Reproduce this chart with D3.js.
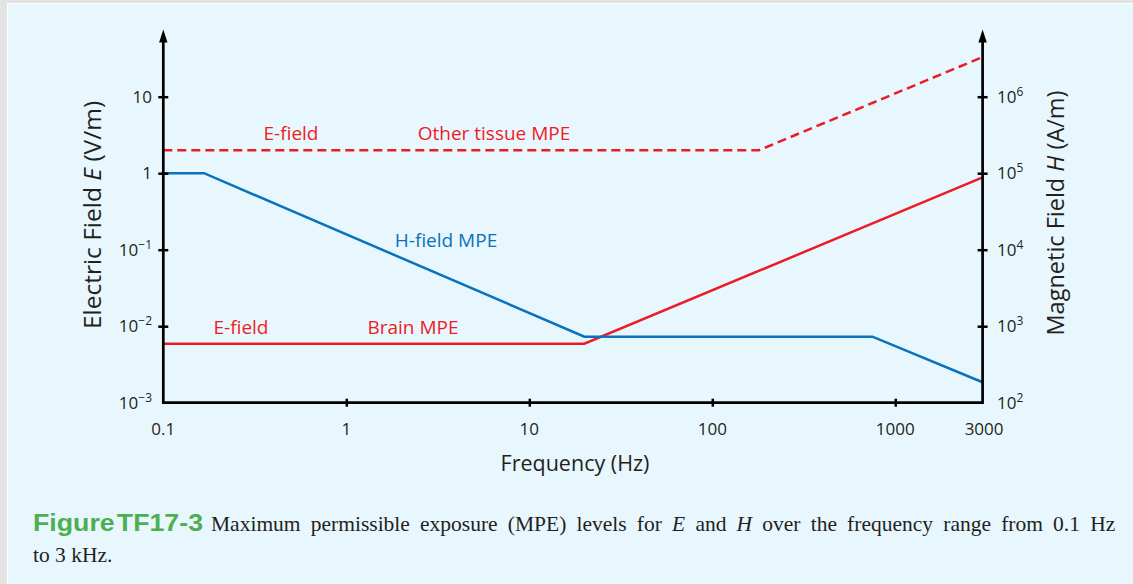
<!DOCTYPE html>
<html><head><meta charset="utf-8">
<script src="https://cdn.jsdelivr.net/npm/d3@7"></script>
<style>
html,body{margin:0;padding:0;background:#e3e3e3;}
svg{display:block;}
</style></head>
<body>
<svg id="chart" width="1133" height="584"></svg>
<script>
// ---- data ----
const xTicks = [0.1, 1, 10, 100, 1000, 3000];
const xTickLabels = ["0.1", "1", "10", "100", "1000", "3000"];
const eTicks = [0.001, 0.01, 0.1, 1, 10];
const eTickBase = ["10", "10", "10", "1", "10"];
const eTickSup = ["\u22123", "\u22122", "\u22121", "", ""];
const hTicks = [100, 1000, 10000, 100000, 1000000];
const hTickSup = ["2", "3", "4", "5", "6"];

const otherFreq = [0.1, 180, 3000];
const otherE = [2.0, 2.0, 33];
const brainFreq = [0.1, 20, 3000];
const brainE = [0.0059, 0.0059, 0.88];
const hFreq = [0.1, 0.167, 20, 750, 3000];
const hVals = [100000, 100000, 730, 730, 185];

const RED = "#ed1c24", BLUE = "#0a72ba", GREEN = "#4daf4f";

const svg = d3.select("#chart");
// background frame
svg.append("rect").attr("x", 0).attr("y", 0).attr("width", 1133).attr("height", 584).attr("fill", "#e3e3e3");
svg.append("rect").attr("x", 7).attr("y", 3).attr("width", 1126).attr("height", 581).attr("fill", "#ffffff");
svg.append("rect").attr("x", 8).attr("y", 4).attr("width", 1125).attr("height", 580).attr("fill", "#e8f7fe");

const x = d3.scaleLog().domain([0.1, 3000]).range([163.3, 982.6]);
const yE = d3.scaleLog().domain([0.001, 10]).range([402.7, 96.7]);
const yH = d3.scaleLog().domain([100, 1000000]).range([402.7, 96.7]);

const sans = "'Open Sans', 'Noto Sans', sans-serif";

// lines
const lineE = d3.line().x(d => x(d[0])).y(d => yE(d[1]));
const lineH = d3.line().x(d => x(d[0])).y(d => yH(d[1]));
svg.append("path").attr("d", lineE(d3.zip(otherFreq, otherE)))
  .attr("fill", "none").attr("stroke", RED).attr("stroke-width", 2.5).attr("stroke-dasharray", "9,5");
svg.append("path").attr("d", lineE(d3.zip(brainFreq, brainE)))
  .attr("fill", "none").attr("stroke", RED).attr("stroke-width", 2.5);
svg.append("path").attr("d", lineH(d3.zip(hFreq, hVals)))
  .attr("fill", "none").attr("stroke", BLUE).attr("stroke-width", 2.5);

// axes
const axisG = svg.append("g");
const xAxis = axisG.append("g").attr("transform", `translate(0,${yE(0.001)})`)
  .call(d3.axisBottom(x).tickValues([1, 10, 100, 1000]).tickSize(4).tickFormat(""));
xAxis.selectAll(".tick line").attr("y1", -4).attr("y2", 4).attr("stroke", "#000").attr("stroke-width", 2.5);
xAxis.select(".domain").attr("d", `M${x(0.1)},0H${x(3000)}`).attr("stroke", "#000").attr("stroke-width", 2.7);

const lAxis = axisG.append("g").attr("transform", `translate(${x(0.1)},0)`)
  .call(d3.axisLeft(yE).tickValues([0.01, 0.1, 1, 10]).tickSize(5).tickFormat(""));
lAxis.selectAll(".tick line").attr("x1", -5).attr("x2", 5).attr("stroke", "#000").attr("stroke-width", 2.5);
lAxis.select(".domain").attr("d", `M0,${yE(0.001) + 1.3}V38`).attr("stroke", "#000").attr("stroke-width", 2.7);

const rAxis = axisG.append("g").attr("transform", `translate(${x(3000)},0)`)
  .call(d3.axisRight(yH).tickValues([1000, 10000, 100000, 1000000]).tickSize(5).tickFormat(""));
rAxis.selectAll(".tick line").attr("x1", -5).attr("x2", 5).attr("stroke", "#000").attr("stroke-width", 2.5);
rAxis.select(".domain").attr("d", `M0,${yE(0.001) + 1.3}V38`).attr("stroke", "#000").attr("stroke-width", 2.7);

// arrow heads
[x(0.1), x(3000)].forEach(ax => {
  svg.append("path").attr("d", `M${ax},29.5L${ax - 4.2},42.5L${ax + 4.2},42.5Z`).attr("fill", "#000");
});

// tick labels
const xl = svg.append("g").attr("font-family", sans).attr("font-size", 17).attr("fill", "#231f20");
xTicks.forEach((t, i) => {
  xl.append("text").attr("x", x(t) + (t === 3000 ? 1.5 : 0)).attr("y", 435).attr("text-anchor", "middle").text(xTickLabels[i]);
});
eTicks.forEach((t, i) => {
  const tx = xl.append("text").attr("x", 152).attr("y", yE(t) + 6).attr("text-anchor", "end");
  tx.append("tspan").text(eTickBase[i]);
  if (eTickSup[i]) tx.append("tspan").attr("font-size", 12).attr("dy", -7).text(eTickSup[i]);
});
hTicks.forEach((t, i) => {
  const tx = xl.append("text").attr("x", 997).attr("y", yH(t) + 6).attr("text-anchor", "start");
  tx.append("tspan").text("10");
  tx.append("tspan").attr("font-size", 12).attr("dy", -7).text(hTickSup[i]);
});

// axis titles
svg.append("text").attr("x", 575).attr("y", 471).attr("text-anchor", "middle")
  .attr("font-family", sans).attr("font-size", 21.5).attr("fill", "#231f20").text("Frequency (Hz)");

const lt = svg.append("text").attr("transform", "translate(101,215) rotate(-90)").attr("text-anchor", "middle")
  .attr("font-family", sans).attr("font-size", 24.5).attr("fill", "#231f20");
lt.append("tspan").text("Electric Field ");
lt.append("tspan").attr("font-style", "italic").text("E");
lt.append("tspan").text(" (V/m)");

const rt = svg.append("text").attr("transform", "translate(1064,213) rotate(-90)").attr("text-anchor", "middle")
  .attr("font-family", sans).attr("font-size", 23.5).attr("fill", "#231f20");
rt.append("tspan").text("Magnetic Field ");
rt.append("tspan").attr("font-style", "italic").text("H");
rt.append("tspan").text(" (A/m)");

// series labels
const lab = svg.append("g").attr("font-family", sans).attr("font-size", 19).attr("text-anchor", "middle");
lab.append("text").attr("x", 291).attr("y", 140).attr("fill", RED).text("E-field");
lab.append("text").attr("x", 494).attr("y", 140).attr("fill", RED).text("Other tissue MPE");
lab.append("text").attr("x", 446).attr("y", 247).attr("fill", BLUE).text("H-field MPE");
lab.append("text").attr("x", 241).attr("y", 334).attr("fill", RED).text("E-field");
lab.append("text").attr("x", 413).attr("y", 334).attr("fill", RED).text("Brain MPE");

// caption
const cap = svg.append("g");
cap.append("text").attr("x", 33).attr("y", 531).attr("font-family", "'Liberation Sans', Arial, sans-serif")
  .attr("font-weight", "bold").attr("font-size", 24).attr("fill", GREEN)
  .attr("textLength", 170).attr("lengthAdjust", "spacingAndGlyphs").text("Figure\u200aTF17-3");
const c1 = cap.append("text").attr("x", 211).attr("y", 531).attr("font-family", "'Liberation Serif', 'Times New Roman', serif")
  .attr("font-size", 21.5).attr("fill", "#231f20");
c1.append("tspan").text("Maximum permissible exposure (MPE) levels for ");
c1.append("tspan").attr("font-style", "italic").text("E");
c1.append("tspan").text(" and ");
c1.append("tspan").attr("font-style", "italic").text("H");
c1.append("tspan").text(" over the frequency range from 0.1 Hz");
const w = c1.node().getComputedTextLength();
const spaces = 16;
c1.attr("word-spacing", ((1120 - 211) - w) / spaces);
cap.append("text").attr("x", 33).attr("y", 562).attr("font-family", "'Liberation Serif', 'Times New Roman', serif")
  .attr("font-size", 21.5).attr("fill", "#231f20").text("to 3 kHz.");
</script>
</body></html>
